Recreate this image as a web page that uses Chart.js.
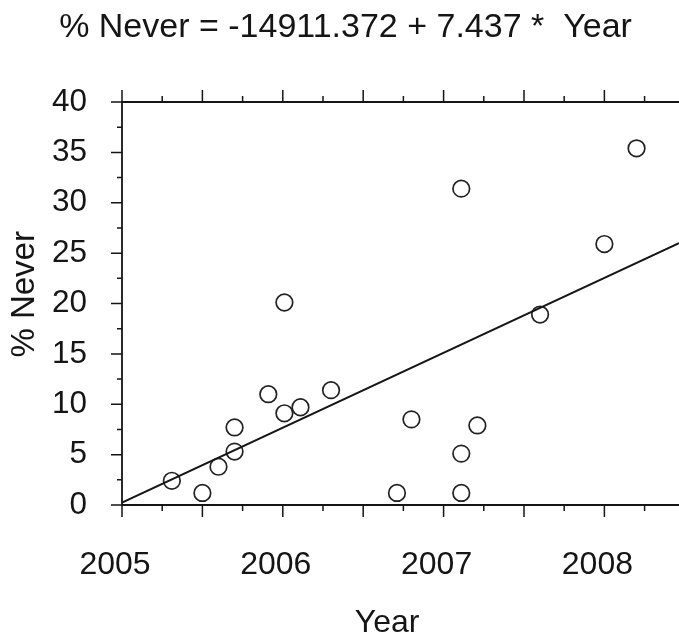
<!DOCTYPE html>
<html>
<head>
<meta charset="utf-8">
<script src="https://cdn.jsdelivr.net/npm/chart.js@4/dist/chart.umd.min.js"></script>
<style>
  html, body { margin: 0; padding: 0; background: #fff; overflow: hidden; }
  #c { display: block; }
</style>
</head>
<body>
<canvas id="c" width="679" height="639"></canvas>
<script>
// ---- data ----
const years   = [2005.31, 2005.50, 2005.60, 2005.70, 2005.70, 2005.91, 2006.01, 2006.01, 2006.11, 2006.30,
                 2006.71, 2006.80, 2007.11, 2007.11, 2007.11, 2007.21, 2007.60, 2008.00, 2008.20];
const pctNever = [2.4, 1.2, 3.8, 5.3, 7.7, 11.0, 20.1, 9.1, 9.7, 11.4,
                  1.2, 8.5, 31.4, 5.1, 1.2, 7.9, 18.9, 25.9, 35.4];
// regression line endpoints (as drawn)
const fitYears = [2005, 2008.464];
const fitPct   = [0.23, 25.99];
// axis ticks
const xTickLabels  = [2005, 2006, 2007, 2008];
const xMajorTicks  = [2005, 2005.5, 2006, 2006.5, 2007, 2007.5, 2008];
const xMinorTicks  = [2005.25, 2005.75, 2006.25, 2006.75, 2007.25, 2007.75, 2008.25];
const yTickLabels  = [0, 5, 10, 15, 20, 25, 30, 35, 40];
const yMinorTicks  = [2.5, 7.5, 12.5, 17.5, 22.5, 27.5, 32.5, 37.5];
const titleText = '% Never = -14911.372 + 7.437 *  Year';

const FONT = '"Liberation Sans", Arial, Helvetica, sans-serif';
const INK = '#151515';

const TITLE_PAD_TOP = 7, TITLE_SIZE = 34, TITLE_LH = 1.2;
const PLOT_TOP = 102, PLOT_BOTTOM = 505, PLOT_LEFT = 122, CANVAS_H = 639;

const axisPlugin = {
  id: 'axisTicks',
  afterDraw(chart) {
    const ctx = chart.ctx, x = chart.scales.x, y = chart.scales.y, a = chart.chartArea;
    ctx.save();
    ctx.strokeStyle = INK;
    ctx.lineCap = 'butt';
    // axis lines
    ctx.lineWidth = 1.8;
    ctx.beginPath();
    ctx.moveTo(a.left, a.top); ctx.lineTo(a.right, a.top);
    ctx.moveTo(a.left, a.bottom); ctx.lineTo(a.right, a.bottom);
    ctx.moveTo(a.left, a.top); ctx.lineTo(a.left, a.bottom);
    ctx.stroke();
    // ticks
    ctx.lineWidth = 1.5;
    ctx.beginPath();
    xMajorTicks.forEach(v => {
      const px = x.getPixelForValue(v);
      ctx.moveTo(px, a.bottom); ctx.lineTo(px, a.bottom + 12);
      ctx.moveTo(px, a.top); ctx.lineTo(px, a.top - 12);
    });
    xMinorTicks.forEach(v => {
      const px = x.getPixelForValue(v);
      ctx.moveTo(px, a.bottom); ctx.lineTo(px, a.bottom + 6);
      ctx.moveTo(px, a.top); ctx.lineTo(px, a.top - 6);
    });
    yTickLabels.forEach(v => {
      const py = y.getPixelForValue(v);
      ctx.moveTo(a.left, py); ctx.lineTo(a.left - 11, py);
    });
    yMinorTicks.forEach(v => {
      const py = y.getPixelForValue(v);
      ctx.moveTo(a.left, py); ctx.lineTo(a.left - 5, py);
    });
    ctx.stroke();
    ctx.restore();
  }
};

new Chart(document.getElementById('c'), {
  data: {
    datasets: [
      {
        type: 'line',
        data: fitYears.map((v, i) => ({ x: v, y: fitPct[i] })),
        borderColor: INK,
        borderWidth: 2,
        pointRadius: 0,
        fill: false,
        tension: 0
      },
      {
        type: 'scatter',
        data: years.map((v, i) => ({ x: v, y: pctNever[i] })),
        pointRadius: 8.3,
        pointBorderWidth: 1.7,
        borderColor: '#222',
        backgroundColor: 'rgba(0,0,0,0)',
        pointStyle: 'circle'
      }
    ]
  },
  options: {
    responsive: false,
    animation: false,
    devicePixelRatio: 1,
    layout: { autoPadding: false, padding: { left: 12, right: 0, top: 0, bottom: 0 } },
    plugins: {
      legend: { display: false },
      tooltip: { enabled: false },
      title: {
        display: true,
        text: titleText,
        color: INK,
        font: { family: FONT, size: TITLE_SIZE, weight: 'normal', lineHeight: TITLE_LH },
        padding: { top: TITLE_PAD_TOP, bottom: 0 }
      }
    },
    scales: {
      x: {
        type: 'linear',
        position: 'bottom',
        min: 2005,
        max: 2008.464,
        afterBuildTicks: s => { s.ticks = xTickLabels.map(v => ({ value: v })); },
        afterFit: s => { s.height = CANVAS_H - PLOT_BOTTOM; s.paddingLeft = 0; s.paddingRight = 0; },
        grid: { display: false },
        border: { display: false },
        ticks: {
          color: INK,
          font: { family: FONT, size: 32 },
          padding: 32.5,
          labelOffset: -7,
          maxRotation: 0,
          autoSkip: false,
          callback: v => String(v)
        },
        title: {
          display: true,
          text: 'Year   ',
          color: INK,
          font: { family: FONT, size: 32, lineHeight: 1 },
          padding: { top: 0, bottom: 0 }
        }
      },
      x2: {
        type: 'linear',
        axis: 'x',
        position: 'top',
        min: 2005,
        max: 2008.464,
        afterFit: s => { s.height = PLOT_TOP - (TITLE_PAD_TOP + TITLE_SIZE * TITLE_LH); s.paddingLeft = 0; s.paddingRight = 0; },
        grid: { display: false },
        border: { display: false },
        ticks: { display: false }
      },
      y: {
        type: 'linear',
        position: 'left',
        min: 0,
        max: 40,
        afterBuildTicks: s => { s.ticks = yTickLabels.map(v => ({ value: v })); },
        afterFit: s => { s.width = PLOT_LEFT - 12; },
        grid: { display: false },
        border: { display: false },
        ticks: {
          color: INK,
          font: { family: FONT, size: 31.5 },
          padding: 27,
          autoSkip: false
        },
        title: {
          display: true,
          text: '  % Never',
          color: INK,
          font: { family: FONT, size: 33, lineHeight: 0.8 },
          padding: { top: 0, bottom: 0 }
        }
      }
    }
  },
  plugins: [axisPlugin]
});
</script>
</body>
</html>
